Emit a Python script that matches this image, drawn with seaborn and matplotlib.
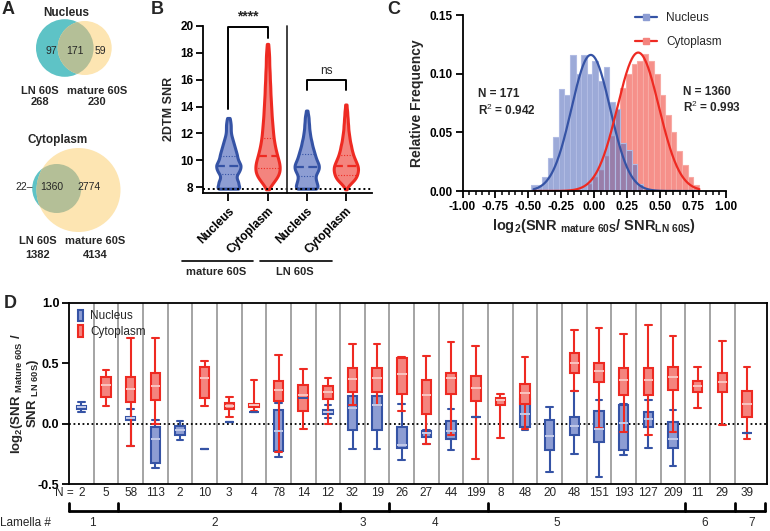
import numpy as np
import pandas as pd
import matplotlib
matplotlib.use("Agg")
import matplotlib.pyplot as plt
import matplotlib.transforms as mtransforms
from matplotlib.patches import Circle, Patch
from matplotlib.lines import Line2D
import seaborn as sns

# ---------------- data ----------------
# A: Venn counts (LN only, both, mature only) and totals (LN, mature)
nucleus_venn = [97, 171, 59]
nucleus_totals = [268, 230]
cytoplasm_venn = [22, 1360, 2774]
cytoplasm_totals = [1382, 4134]

# B: violin profiles (SNR level, relative count)
violin_groups = ["mature Nucleus", "mature Cytoplasm", "LN Nucleus", "LN Cytoplasm"]
violin_tick_labels = ["Nucleus", "Cytoplasm", "Nucleus", "Cytoplasm"]
snr_mature_nuc = [7.9, 8.15, 8.4, 8.65, 8.9, 9.15, 9.4, 9.65, 9.9, 10.15, 10.4, 10.65,
                  10.9, 11.15, 11.4, 11.65, 11.9, 12.15, 12.4, 12.65, 12.9, 13.15]
cnt_mature_nuc = [26, 21, 21, 17, 17, 22, 25, 26, 22, 19, 18, 16,
                  14, 12, 10, 8, 6, 5, 5, 5, 4, 3]
snr_mature_cyt = [7.85, 8.1, 8.35, 8.6, 8.85, 9.1, 9.35, 9.6, 9.85, 10.1, 10.35, 10.6,
                  10.85, 11.1, 11.35, 11.6, 11.85, 12.1, 12.35, 12.6, 12.85, 13.1,
                  13.35, 13.6, 13.85, 14.1, 14.35, 14.6, 14.85, 15.1, 15.35, 15.6,
                  15.85, 16.1, 16.35, 16.6, 16.85, 17.1, 17.35, 17.6, 17.85, 18.1,
                  18.35, 18.65]
cnt_mature_cyt = [1, 5, 10, 15, 19, 22, 22, 22, 21, 19, 17, 16,
                  14, 13, 12, 11, 10, 10, 9, 9, 8, 8,
                  7, 7, 7, 6, 6, 6, 5, 5, 5, 5,
                  4, 4, 4, 4, 3, 3, 3, 3, 3, 2,
                  2, 2]
snr_ln_nuc = [7.9, 8.15, 8.4, 8.65, 8.9, 9.15, 9.4, 9.65, 9.9, 10.15, 10.4, 10.65,
              10.9, 11.15, 11.4, 11.65, 11.9, 12.15, 12.4, 12.65, 12.9, 13.15,
              13.4, 13.7]
cnt_ln_nuc = [24, 22, 20, 18, 18, 22, 25, 25, 22, 19, 17, 15,
              13, 11, 10, 8, 7, 6, 5, 5, 4, 4, 3, 2]
snr_ln_cyt = [7.85, 8.1, 8.35, 8.6, 8.85, 9.1, 9.35, 9.6, 9.85, 10.1, 10.35, 10.6,
              10.85, 11.1, 11.35, 11.6, 11.85, 12.1, 12.35, 12.6, 12.85, 13.1,
              13.35, 13.6, 13.85, 14.15]
cnt_ln_cyt = [1, 5, 12, 19, 23, 25, 26, 25, 22, 19, 16, 14,
              12, 11, 9, 8, 7, 6, 5, 5, 4, 4, 3, 3, 2, 2]
# quartiles drawn on the violins (q1, median, q3)
violin_quartiles = [(9.0, 9.58, 10.32), (9.46, 10.35, 11.64),
                    (8.86, 9.53, 10.5), (8.9, 9.6, 10.4)]
snr_threshold = 7.85

# C: histogram of log2 ratio (relative frequency) + Gaussian fits
bin_start = -0.48
bin_width = 0.0425
nucleus_freq = [0.005, 0.005, 0.012, 0.028, 0.046, 0.087, 0.082, 0.116, 0.100, 0.116,
                0.100, 0.111, 0.094, 0.106, 0.076, 0.070, 0.041, 0.035, 0.023, 0.006]
cytoplasm_freq = [0, 0, 0, 0, 0, 0, 0, 0, 0, 0,
                  0.006, 0.012, 0.018, 0.030, 0.047, 0.070, 0.088, 0.100, 0.108, 0.111,
                  0.117, 0.111, 0.100, 0.082, 0.065, 0.050, 0.034, 0.022, 0.012, 0.005]
gauss_nucleus = (0.116, -0.025, 0.147)     # amplitude, mean, sd
gauss_cytoplasm = (0.118, 0.335, 0.158)
fit_range = (-0.46, 0.80)
fit_text = ["N = 171\nR$^2$ = 0.942", "N = 1360\nR$^2$ = 0.993"]

# D: per-tomogram box stats (min, q1, median, q3, max); None = no box
n_labels = [2, 5, 58, 113, 2, 10, 3, 4, 78, 14, 12, 32, 19, 26, 27, 44, 199,
            8, 48, 20, 48, 151, 193, 127, 209, 11, 29, 39]
nucleus_box = [
    (0.094, 0.12, 0.135, 0.15, 0.18), None,
    (-0.187, 0.03, 0.047, 0.06, 0.118), (-0.369, -0.325, -0.127, -0.028, 0.033),
    (-0.132, -0.09, -0.055, -0.02, 0.025), (-0.206,) * 5, (0.011,) * 5, (0.096,) * 5,
    (-0.275, -0.228, -0.063, 0.116, 0.171), (0.215,) * 5,
    (0.047, 0.08, 0.094, 0.11, 0.151), (-0.209, -0.055, 0.129, 0.226, 0.30),
    (-0.209, -0.055, 0.157, 0.226, 0.30), (-0.303, -0.20, -0.173, -0.028, 0.165),
    (-0.165, -0.11, -0.077, -0.06, -0.055), (-0.215, -0.124, -0.063, 0.025, 0.121),
    (0.06,) * 5, None,
    (-0.05, -0.028, 0.083, 0.204, 0.239), (-0.402, -0.22, -0.105, 0.028, 0.138),
    (-0.248, -0.094, -0.022, 0.052, 0.27), (-0.44, -0.154, -0.044, 0.105, 0.193),
    (-0.259, -0.22, 0.006, 0.154, 0.165), (-0.204, -0.03, 0.041, 0.094, 0.195),
    (-0.352, -0.198, -0.124, 0.014, 0.11), None, None, (-0.077,) * 5,
]
cytoplasm_box = [
    None, (0.143, 0.225, 0.32, 0.39, 0.44),
    (-0.187, 0.176, 0.286, 0.385, 0.705), (0.0, 0.198, 0.308, 0.418, 0.705),
    None, (0.143, 0.212, 0.377, 0.468, 0.52), (0.06, 0.12, 0.143, 0.17, 0.22),
    (0.107, 0.14, 0.151, 0.16, 0.358),
    (-0.237, 0.19, 0.275, 0.35, 0.57), (-0.044, 0.107, 0.24, 0.322, 0.454),
    (0.0, 0.206, 0.259, 0.308, 0.38), (0.154, 0.264, 0.369, 0.457, 0.655),
    (0.154, 0.264, 0.377, 0.457, 0.655), (0.102, 0.248, 0.41, 0.545, 0.55),
    (-0.165, 0.083, 0.24, 0.358, 0.556), (-0.094, 0.245, 0.377, 0.421, 0.677),
    (-0.289, 0.19, 0.295, 0.396, 0.641), (-0.116, 0.157, 0.193, 0.215, 0.248),
    (-0.044, 0.165, 0.253, 0.325, 0.55), None,
    (0.273, 0.418, 0.506, 0.584, 0.771), (-0.039, 0.347, 0.438, 0.50, 0.787),
    (-0.072, 0.24, 0.363, 0.46, 0.743), (-0.094, 0.24, 0.363, 0.457, 0.815),
    (-0.072, 0.275, 0.385, 0.473, 0.727), (0.132, 0.259, 0.308, 0.352, 0.473),
    (-0.011, 0.261, 0.341, 0.418, 0.685), (-0.127, 0.055, 0.165, 0.267, 0.473),
]
# lamella groups: (first cell, last cell, label)
lamellae = [(0, 1, "1"), (2, 10, "2"), (11, 12, "3"), (13, 16, "4"),
            (17, 24, "5"), (25, 26, "6"), (27, 27, "7")]
lamella_label_x = [0.45, 5.4, 11.4, 14.35, 19.3, 25.3, 27.2]

# ---------------- style ----------------
BLUE = "#3553a5"
RED = "#ee2a22"
BLUE_FILL = "#8d9dd3"
RED_FILL = "#f4847e"
BLUE_MED = "#c3cbe9"
RED_MED = "#fac4c0"

sns.set_style("ticks")
plt.rcParams["font.family"] = ["Liberation Sans", "DejaVu Sans"]
plt.rcParams["mathtext.fontset"] = "custom"
plt.rcParams["mathtext.rm"] = "Liberation Sans"
plt.rcParams["mathtext.bf"] = "Liberation Sans:bold"
plt.rcParams["mathtext.it"] = "Liberation Sans:italic"
plt.rcParams["axes.unicode_minus"] = False
plt.rcParams["axes.linewidth"] = 1.3
plt.rcParams["xtick.major.width"] = 1.3
plt.rcParams["ytick.major.width"] = 1.3
plt.rcParams["xtick.color"] = "black"
plt.rcParams["ytick.color"] = "black"
plt.rcParams["axes.edgecolor"] = "black"

W, H = 770, 531


def rect(l, t, r, b):
    return [l / W, 1 - b / H, (r - l) / W, (b - t) / H]


def bold_ticks(ax):
    for lab in ax.get_xticklabels() + ax.get_yticklabels():
        lab.set_fontweight("bold")


fig = plt.figure(figsize=(W / 100, H / 100), dpi=100)

# overlay in pixel coordinates for panel A and free text
ov = fig.add_axes([0, 0, 1, 1])
ov.set_xlim(0, W)
ov.set_ylim(H, 0)
ov.axis("off")

for letter, (px, py) in zip("ABCD", [(8, 10), (157, 10), (394, 10), (10, 304)]):
    ov.text(px, py, letter, fontsize=13, fontweight="bold", ha="center", va="center")

# ---------------- A: Venn ----------------
TEAL = "#5ec3c6"
YELLOW = "#fde5b2"
OVERLAP = "#b4bf97"


def venn(cx_ln, cy_ln, r_ln, cx_m, cy_m, r_m):
    c1 = Circle((cx_ln, cy_ln), r_ln, fc=TEAL, ec="none")
    c2 = Circle((cx_m, cy_m), r_m, fc=YELLOW, ec="none")
    c3 = Circle((cx_ln, cy_ln), r_ln, fc=OVERLAP, ec="none")
    for c in (c1, c2, c3):
        ov.add_patch(c)
    c3.set_clip_path(c2)


venn(64.8, 48, 28.8, 84.7, 48, 27)
ov.text(66, 13, "Nucleus", fontsize=8.5, fontweight="bold", ha="center", va="center")
for x, v in zip([51.5, 75, 100], nucleus_venn):
    ov.text(x, 51, str(v), fontsize=7.5, ha="center", va="center")
for x, lab, v in zip([40, 97], ["LN 60S", "mature 60S"], nucleus_totals):
    ov.text(x, 91.5, lab, fontsize=8, fontweight="bold", ha="center", va="center")
    ov.text(x, 102, str(v), fontsize=8, fontweight="bold", ha="center", va="center")

venn(56.7, 188.5, 24.5, 78.5, 190, 42)
ov.text(58, 140, "Cytoplasm", fontsize=8.5, fontweight="bold", ha="center", va="center")
ov.text(24, 187, f"{cytoplasm_venn[0]}\u2013", fontsize=7.5, ha="center", va="center")
for x, v in zip([52, 89], cytoplasm_venn[1:]):
    ov.text(x, 187, str(v), fontsize=7.5, ha="center", va="center")
for x, lab, v in zip([38, 95], ["LN 60S", "mature 60S"], cytoplasm_totals):
    ov.text(x, 240.5, lab, fontsize=8, fontweight="bold", ha="center", va="center")
    ov.text(x, 254.5, str(v), fontsize=8, fontweight="bold", ha="center", va="center")

# ---------------- B: violins ----------------
axb = fig.add_axes(rect(203.3, 25.7, 371.7, 192.7))
axb.patch.set_alpha(0)
rows = []
for g, levels, counts in zip(violin_groups,
                             [snr_mature_nuc, snr_mature_cyt, snr_ln_nuc, snr_ln_cyt],
                             [cnt_mature_nuc, cnt_mature_cyt, cnt_ln_nuc, cnt_ln_cyt]):
    for lv, c in zip(levels, counts):
        rows += [(g, g.split()[1], lv)] * c
vdf = pd.DataFrame(rows, columns=["group", "loc", "snr"])

for loc, fcol, ecol in [("Nucleus", BLUE_FILL, BLUE), ("Cytoplasm", RED_FILL, RED)]:
    sns.violinplot(data=vdf[vdf["loc"] == loc], x="group", y="snr", order=violin_groups,
                   color=fcol, linecolor=ecol, saturation=1, linewidth=2.2,
                   inner=None, cut=0, density_norm="width", width=0.62,
                   bw_method=0.12, ax=axb)

# quartile lines spanning the drawn violin outline
for coll in list(axb.collections):
    verts = coll.get_paths()[0].vertices
    cx = (verts[:, 0].min() + verts[:, 0].max()) / 2
    idx = int(round(cx))
    ecol = BLUE if idx in (0, 2) else RED
    side = verts[verts[:, 0] > cx + 1e-6]
    order_y = np.argsort(side[:, 1])
    ys, xs = side[order_y, 1], side[order_y, 0]
    for k, q in enumerate(violin_quartiles[idx]):
        hw = np.interp(q, ys, xs) - cx
        if k == 1:
            axb.plot([cx - hw, cx + hw], [q, q], color=ecol, lw=1.6, ls=(0, (4, 2)))
        else:
            axb.plot([cx - hw, cx + hw], [q, q], color=ecol, lw=0.8, ls=(0, (1, 1.5)))

axb.set_xlim(-0.64, 3.66)
axb.set_ylim(7.6, 20)
axb.set_yticks(range(8, 21, 2))
axb.set_xticks(range(4))
axb.set_xticklabels(violin_tick_labels, rotation=45, ha="right", rotation_mode="anchor")
axb.tick_params(axis="both", labelsize=8.5, length=5, pad=2)
axb.tick_params(axis="x", length=6, pad=3)
bold_ticks(axb)
axb.set_xlabel("")
axb.set_ylabel("2DTM SNR", fontsize=9, fontweight="bold", labelpad=4)
sns.despine(ax=axb)
axb.axhline(snr_threshold, color="black", lw=1.4, ls=(0, (1, 1.5)))
axb.plot([1.5, 1.5], [7.6, 20], color="#333333", lw=1.3, clip_on=False)
# significance brackets
axb.plot([0, 0, 1, 1], [13.8, 19.88, 19.88, 19.06], color="black", lw=1.4, clip_on=False)
axb.text(0.5, 20.7, "****", fontsize=10, fontweight="bold", ha="center", va="center")
axb.plot([2, 2, 3, 3], [15.2, 15.97, 15.97, 15.2], color="black", lw=1.4, clip_on=False)
axb.text(2.5, 16.65, "ns", fontsize=8.5, ha="center", va="center")
# group labels under the rotated tick labels
ov.plot([182, 253], [260.7, 260.7], color="black", lw=1.2)
ov.plot([260, 332], [260.7, 260.7], color="black", lw=1.2)
ov.text(216, 272, "mature 60S", fontsize=8, fontweight="bold", ha="center", va="center")
ov.text(295, 272, "LN 60S", fontsize=8, fontweight="bold", ha="center", va="center")

# ---------------- C: histogram ----------------
axc = fig.add_axes(rect(462.5, 15, 725.7, 191))
axc.patch.set_alpha(0)
edges_n = bin_start + bin_width * np.arange(len(nucleus_freq) + 1)
edges_c = bin_start + bin_width * np.arange(len(cytoplasm_freq) + 1)
hist_c = pd.DataFrame({"x": edges_c[:-1] + bin_width / 2, "freq": cytoplasm_freq})
hist_n = pd.DataFrame({"x": edges_n[:-1] + bin_width / 2, "freq": nucleus_freq})
sns.histplot(data=hist_c, x="x", weights="freq", bins=list(edges_c),
             color="#f0463d", alpha=0.6, edgecolor="#f7aaa4", linewidth=0.8, ax=axc)
sns.histplot(data=hist_n, x="x", weights="freq", bins=list(edges_n),
             color="#5b72bf", alpha=0.6, edgecolor="#b0bbe3", linewidth=0.8, ax=axc)
xfit = np.linspace(fit_range[0], fit_range[1], 300)
for (amp, mu, sd), col in [(gauss_nucleus, BLUE), (gauss_cytoplasm, RED)]:
    sns.lineplot(x=xfit, y=amp * np.exp(-0.5 * ((xfit - mu) / sd) ** 2),
                 color=col, lw=1.6, ax=axc)
axc.set_xlim(-1, 1)
axc.set_ylim(0, 0.15)
axc.set_xticks(np.arange(-1, 1.01, 0.25))
axc.set_xticks(np.arange(-1, 1.01, 0.05), minor=True)
axc.set_yticks([0, 0.05, 0.10, 0.15])
axc.xaxis.set_major_formatter(matplotlib.ticker.FormatStrFormatter("%.2f"))
axc.yaxis.set_major_formatter(matplotlib.ticker.FormatStrFormatter("%.2f"))
axc.tick_params(axis="both", labelsize=8.5, length=5, pad=2)
axc.tick_params(axis="x", which="minor", length=3, width=1.1)
bold_ticks(axc)
axc.set_ylabel("Relative Frequency", fontsize=10, fontweight="bold", labelpad=4)
axc.set_xlabel(r"log$_\mathbf{2}$(SNR $_\mathbf{mature\ 60S}$/ SNR$_\mathbf{LN\ 60S}$)",
               fontsize=10.5, fontweight="bold", labelpad=3)
sns.despine(ax=axc)
axc.text(-0.88, 0.075, fit_text[0], fontsize=8.5, fontweight="bold", va="center", linespacing=1.2)
axc.text(0.675, 0.077, fit_text[1], fontsize=8.5, fontweight="bold", va="center", linespacing=1.2)
handles = [Line2D([], [], color=BLUE, lw=1.6, marker="s", ms=5, mfc=BLUE_FILL, mec=BLUE_FILL),
           Line2D([], [], color=RED, lw=1.6, marker="s", ms=5, mfc=RED_FILL, mec=RED_FILL)]
axc.legend(handles, ["Nucleus", "Cytoplasm"], loc="upper right", bbox_to_anchor=(1.025, 1.075),
           frameon=False, fontsize=8.5, handlelength=1.8, handletextpad=0.8,
           labelspacing=0.95)

# ---------------- D: per-tomogram boxes ----------------
axd = fig.add_axes(rect(69, 302.7, 766.7, 484.3))
axd.patch.set_alpha(0)
cells = [str(i) for i in range(len(n_labels))]
recs = []
for i, (nb, cb) in enumerate(zip(nucleus_box, cytoplasm_box)):
    if nb is not None:
        recs += [(cells[i], "Nucleus", v) for v in nb]
    if cb is not None:
        recs += [(cells[i], "Cytoplasm", v) for v in cb]
ddf = pd.DataFrame(recs, columns=["cell", "loc", "ratio"])

for loc, fcol, ecol, mcol in [("Nucleus", BLUE_FILL, BLUE, BLUE_MED),
                              ("Cytoplasm", RED_FILL, RED, RED_MED)]:
    sns.boxplot(data=ddf[ddf["loc"] == loc], x="cell", y="ratio", hue="loc",
                order=cells, hue_order=["Nucleus", "Cytoplasm"],
                palette={"Nucleus": BLUE_FILL, "Cytoplasm": RED_FILL},
                linecolor=ecol, saturation=1, linewidth=1.5, width=0.96, gap=0.6,
                whis=(0, 100), fliersize=0, capwidths=0.27,
                medianprops={"color": mcol, "linewidth": 1.4},
                legend=False, ax=axd)

# single-value boxes show as a solid dash: paint their median in the edge colour
for ln in axd.lines:
    col = matplotlib.colors.to_hex(ln.get_color())
    if col not in (BLUE_MED, RED_MED):
        continue
    i = int(round(np.mean(ln.get_xdata())))
    stats = nucleus_box[i] if col == BLUE_MED else cytoplasm_box[i]
    if stats is not None and stats[0] == stats[-1]:
        ln.set_color(BLUE if col == BLUE_MED else RED)

for k in range(len(n_labels) - 1):
    axd.axvline(k + 0.5, color="#8c8c8c", lw=1.1, zorder=0)
axd.axhline(0, color="black", lw=1.3, ls=(0, (1, 1.5)), zorder=0.5)
axd.set_xlim(-0.5, 27.8)
axd.set_ylim(-0.5, 1.0)
axd.set_yticks([-0.5, 0, 0.5, 1.0])
axd.yaxis.set_major_formatter(matplotlib.ticker.FormatStrFormatter("%.1f"))
axd.set_xticks([])
axd.set_xlabel("")
axd.tick_params(axis="y", labelsize=9, length=5, pad=2)
bold_ticks(axd)
axd.set_ylabel("log$_\\mathbf{2}$(SNR $_\\mathbf{Mature\\ 60S}$ /\nSNR $_\\mathbf{LN\\ 60S}$)",
               fontsize=9.5, fontweight="bold", linespacing=1.0)
axd.yaxis.set_label_coords(-0.04, 0.5)

tr = mtransforms.blended_transform_factory(axd.transData, axd.transAxes)
for i, n in enumerate(n_labels):
    axd.text(i, -0.048, str(n), transform=tr, fontsize=8.5, ha="center", va="center")
axd.text(-0.3, -0.048, "N =", transform=tr, fontsize=8.5, ha="right", va="center")
edges = sorted({-0.5} | {last + 0.5 for _, last, _ in lamellae[:-1]})
axd.plot([-0.5, 27.72], [-0.147, -0.147], transform=tr, color="black", lw=2, clip_on=False)
for e in edges + [27.72]:
    axd.plot([e, e], [-0.147, -0.105], transform=tr, color="black", lw=2, clip_on=False)
for (_, _, lab), lx in zip(lamellae, lamella_label_x):
    axd.text(lx, -0.213, lab, transform=tr, fontsize=8.5, ha="center", va="center")
ov.text(0, 523, "Lamella #", fontsize=8.5, ha="left", va="center")

leg_handles = [Patch(facecolor=BLUE_FILL, edgecolor=BLUE, lw=1.5),
               Patch(facecolor=RED_FILL, edgecolor=RED, lw=1.5)]
axd.legend(leg_handles, ["Nucleus", "Cytoplasm"], loc="upper left",
           bbox_to_anchor=(-0.003, 1.02), frameon=False, fontsize=8.5,
           handlelength=0.45, handleheight=1.1, handletextpad=0.6, labelspacing=0.25)

fig.savefig("out.png", dpi=100)
